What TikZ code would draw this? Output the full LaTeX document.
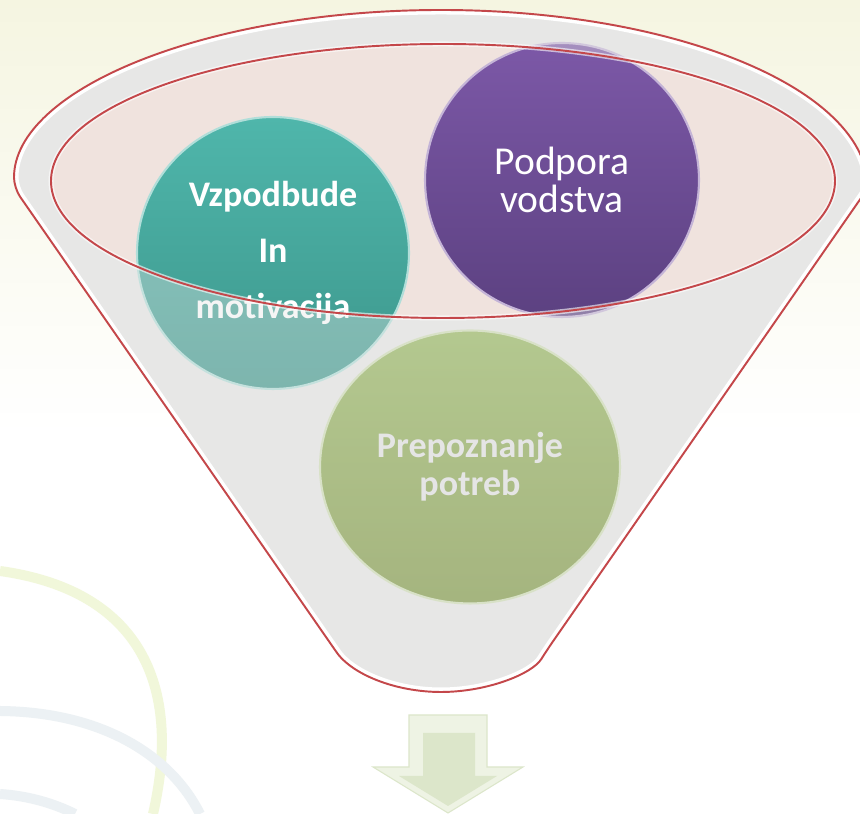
\documentclass[tikz,border=0pt]{standalone}
\usepackage{fontspec}
\setmainfont{Carlito}
\usepackage{tikz}
\usetikzlibrary{positioning,shapes.geometric}
\definecolor{cream}{HTML}{F5F5E1}
\definecolor{bodygray}{HTML}{E7E7E6}
\definecolor{mouthpink}{HTML}{F0E3DE}
\definecolor{rimred}{HTML}{C4474A}
\definecolor{tealtop}{HTML}{4FB6AB}
\definecolor{tealbot}{HTML}{3D978C}
\definecolor{purptop}{HTML}{7C58A7}
\definecolor{purpbot}{HTML}{5C4181}
\definecolor{greentop}{HTML}{95B65B}
\definecolor{greenbot}{HTML}{7D9640}
\definecolor{swirlyel}{HTML}{F1F7DA}
\definecolor{swirlblu}{HTML}{ECF1F4}
\definecolor{arrowrim}{HTML}{EEF3E4}
\definecolor{arrowface}{HTML}{DCE6CA}
\newcommand{\funnelpath}{(14,626) arc[start angle=180, end angle=0, x radius=427, y radius=178]
  [rounded corners=6pt] -- (547,164) [sharp corners] .. controls (532,140) and (487,122) .. (441,122)
  .. controls (395,122) and (350,140) .. (335,164) [rounded corners=6pt] -- cycle}
\newcommand{\mouthpath}{(443,633) ellipse [x radius=392, y radius=137]}
\tikzset{
  ball/.style    = {circle, minimum size=#1, inner sep=0pt, align=center, text=white,
                    line width=1.2pt},
  egg/.style     = {ellipse, minimum width=6cm, minimum height=5.46cm, inner sep=0pt,
                    align=center, text=white!90!black, line width=1.2pt},
  swirl/.style   = {draw=#1, line width=0.2cm},
  rim/.style     = {draw=rimred, line width=1.1pt},
  boldtxt/.style = {font=\fontsize{20.5}{#1}\selectfont\bfseries},
}

\begin{document}
\begin{tikzpicture}[x=0.02cm, y=0.02cm]
  \useasboundingbox (0,0) rectangle (860,814);
  % backdrop
  \fill[white] (0,0) rectangle (860,814);
  \shade[top color=cream, bottom color=white] (0,380) rectangle (860,814);
  \draw[swirl=swirlyel] (0,243) .. controls (130,225) and (185,140) .. (153,0);
  \draw[swirl=swirlblu] (0,103) .. controls (100,102) and (170,60) .. (200,0);
  \draw[swirl=swirlblu] (0,20) .. controls (30,18) and (55,10) .. (75,0);

  % funnel body and mouth
  \fill[bodygray] \funnelpath;
  \fill[mouthpink] \mouthpath;

  % the three balls
  \node[ball=5.44cm, top color=tealtop, bottom color=tealbot, draw=tealtop!45!white,
        boldtxt=32pt] (vz) at (273,561) {Vzpodbude\\In\\motivacija};
  \node[ball=5.48cm, top color=purptop, bottom color=purpbot, draw=purptop!45!white,
        font=\fontsize{22.5}{21.6}\selectfont] (pv) at (562,634) {Podpora\\vodstva};
  \node[egg, top color=greentop, bottom color=greenbot, draw=greentop!45!white,
        boldtxt=21.6pt] (pp) at (470,347) {Prepoznanje\\potreb};

  % funnel wall seen over the balls
  \fill[bodygray, fill opacity=0.38, even odd rule] \funnelpath \mouthpath;
  \begin{scope}
    \clip \funnelpath;
    \draw[white, line width=0.18cm] \funnelpath;
  \end{scope}
  \draw[rim] \funnelpath;
  \draw[white, draw opacity=0.6, line width=0.1cm] \mouthpath;
  \draw[rim] \mouthpath;

  % down arrow
  \fill[arrowrim, draw=arrowface, line width=0.6pt]
    (409,99) -- (487,99) -- (487,47) -- (523,47) -- (448,1) -- (373,47) -- (409,47) -- cycle;
  \fill[arrowface]
    (423,81) -- (475,81) -- (475,38) -- (497,38) -- (448,8) -- (399,38) -- (423,38) -- cycle;
\end{tikzpicture}
\end{document}
